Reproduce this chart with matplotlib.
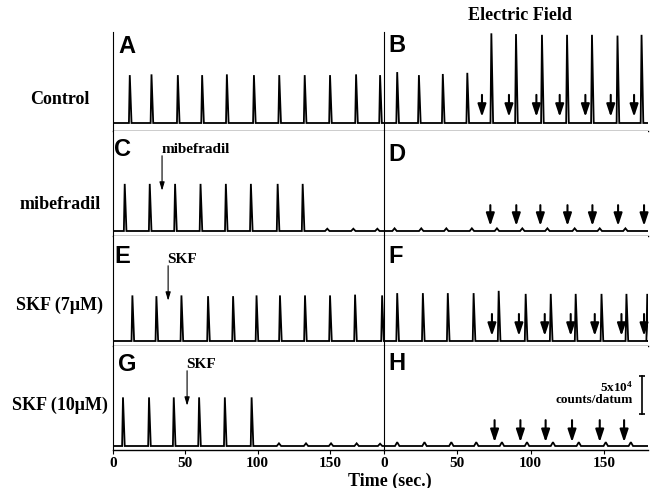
import matplotlib.pyplot as plt

W, H = 650, 489
SERIF = ["Liberation Serif", "DejaVu Serif"]
SANS = ["Liberation Sans", "DejaVu Sans"]
plt.rcParams["mathtext.default"] = "regular"

# times in seconds, heights in 1e4 counts/datum
a_peaks = [11.6, 26.6, 44.8, 61.6, 78.7, 97.4, 114.9, 132.5, 150.0, 168.0, 184.6]
a_heights = [6.3, 6.4, 6.3, 6.3, 6.4, 6.3, 6.3, 6.3, 6.3, 6.4, 6.3]

b_peaks = [9.0, 23.8, 40.1, 56.8, 73.2, 90.0, 107.7, 124.8, 141.8, 159.2, 175.6]
b_heights = [6.7, 6.3, 6.45, 6.6, 11.8, 11.7, 11.6, 11.6, 11.6, 11.5, 11.6]
b_arrows = [66.8, 85.2, 103.9, 119.8, 137.3, 154.6, 170.5]

c_peaks = [8.1, 25.4, 42.9, 60.5, 78.0, 95.3, 113.8, 131.1, 148.1, 166.1, 182.7]
c_heights = [6.2, 6.2, 6.2, 6.2, 6.2, 6.2, 6.2, 6.2, 0.3, 0.3, 0.3]
c_drug = 33.9

d_peaks = [7.2, 25.4, 42.5, 59.9, 77.0, 94.3, 111.4, 130.0, 147.1, 164.6]
d_heights = [0.35, 0.35, 0.35, 0.35, 0.35, 0.35, 0.35, 0.35, 0.35, 0.35]
d_arrows = [72.5, 90.2, 106.6, 125.1, 142.1, 159.6, 177.3]

e_peaks = [13.4, 30.0, 47.3, 65.7, 83.0, 99.2, 115.4, 132.7, 150.0, 167.3, 186.0]
e_heights = [6.0, 5.9, 6.0, 5.9, 5.9, 6.0, 6.0, 6.0, 6.0, 6.1, 6.0]
e_drug = 38.1

f_peaks = [9.0, 26.5, 43.5, 61.1, 78.2, 96.6, 113.7, 130.7, 148.3, 165.3, 179.5]
f_heights = [6.3, 6.3, 6.3, 6.3, 6.6, 6.2, 6.2, 6.2, 6.2, 6.2, 6.2]
f_arrows = [73.6, 92.0, 109.6, 127.3, 143.7, 161.9, 177.3]

g_peaks = [6.9, 24.9, 42.0, 59.5, 77.3, 95.8, 114.7, 133.4, 150.7, 168.4, 184.6]
g_heights = [6.4, 6.4, 6.4, 6.4, 6.4, 6.4, 0.35, 0.35, 0.35, 0.35, 0.3]
g_drug = 51.2

h_peaks = [9.0, 27.6, 45.9, 62.9, 80.4, 97.5, 115.2, 132.8, 151.2, 168.3]
h_heights = [0.5, 0.5, 0.5, 0.5, 0.5, 0.5, 0.5, 0.5, 0.5, 0.5]
h_arrows = [75.4, 93.0, 110.2, 128.2, 147.1, 163.7]

row_labels = ["Control", "mibefradil", "SKF (7\u03bcM)", "SKF (10\u03bcM)"]
panel_letters = ["A", "B", "C", "D", "E", "F", "G", "H"]
xticks = [0, 50, 100, 150]

fig = plt.figure(figsize=(6.5, 4.89), dpi=100)

# rows: top, bottom, baseline (pixels); columns: left, right, x max
rows = [(33, 132, 124), (132, 237, 232), (237, 347, 342), (347, 451, 447)]
cols = [(113, 384, 187.3), (384, 648, 180.0)]
PX = 7.6  # pixels per 1e4 counts


def trace(ax, peaks, heights, xmax):
    x, y = [0], [0]
    for t, h in zip(peaks, heights):
        r, f = (0.6, 1.2) if h > 1 else (1.5, 1.5)
        x += [t - r, t, t + f]
        y += [0, h, 0]
    x.append(xmax)
    y.append(0)
    ax.plot(x, y, color="black", lw=1.3, solid_joinstyle="miter")


def stim_arrows(ax, times, top, tip):
    for t in times:
        ax.annotate("", xy=(t, tip), xytext=(t, top),
                    arrowprops=dict(arrowstyle="-|>,head_width=0.25,head_length=0.75",
                                    color="black", lw=1.5, shrinkA=0, shrinkB=0,
                                    mutation_scale=10))


def drug_arrow(ax, t, label):
    ax.annotate("", xy=(t, 5.3), xytext=(t, 9.9),
                arrowprops=dict(arrowstyle="-|>,head_width=0.15,head_length=0.5",
                                color="black", lw=0.8, shrinkA=0, shrinkB=0,
                                mutation_scale=10))
    ax.text(t - 0.5, 10.9, label, ha="left", va="center", fontsize=11,
            fontweight="bold", family=SERIF)


axes = []
for i, (top, bot, base) in enumerate(rows):
    for j, (x0, x1, xmax) in enumerate(cols):
        ax = fig.add_axes([x0 / W, 1 - bot / H, (x1 - x0) / W, (bot - top) / H])
        ax.set_xlim(0, xmax)
        ax.set_ylim(-(bot - base) / PX, (base - top) / PX)
        for s in ["top", "right"]:
            ax.spines[s].set_visible(False)
        ax.spines["left"].set_linewidth(0.8)
        ax.spines["bottom"].set_linewidth(1.0)
        ax.set_yticks([])
        if i == 3:
            ax.set_xticks(xticks)
            ax.tick_params(axis="x", length=3, width=0.8, pad=1.5)
            for lab in ax.get_xticklabels():
                lab.set_fontsize(11)
                lab.set_fontweight("bold")
                lab.set_family(SERIF)
        else:
            ax.set_xticks([])
        axes.append(ax)

trace(axes[0], a_peaks, a_heights, 187.3)
trace(axes[1], b_peaks, b_heights, 180.0)
stim_arrows(axes[1], b_arrows, 3.7, 0.8)
trace(axes[2], c_peaks, c_heights, 187.3)
drug_arrow(axes[2], c_drug, "mibefradil")
trace(axes[3], d_peaks, d_heights, 180.0)
stim_arrows(axes[3], d_arrows, 3.4, 0.66)
trace(axes[4], e_peaks, e_heights, 187.3)
drug_arrow(axes[4], e_drug, "SKF")
trace(axes[5], f_peaks, f_heights, 180.0)
stim_arrows(axes[5], f_arrows, 3.55, 0.66)
trace(axes[6], g_peaks, g_heights, 187.3)
drug_arrow(axes[6], g_drug, "SKF")
trace(axes[7], h_peaks, h_heights, 180.0)
stim_arrows(axes[7], h_arrows, 3.4, 0.5)

# scale bar in H
axh = axes[7]
axh.plot([175.6, 175.6], [4.2, 9.2], color="black", lw=1.2)
axh.plot([175.6, 175.6], [4.2, 9.2], color="black", lw=0, marker="_", ms=5, mew=1.2)
axh.text(170.0, 7.8, "5x10$^4$", ha="right", va="center", fontsize=9.5,
         fontweight="bold", family=SERIF)
axh.text(170.0, 6.2, "counts/datum", ha="right", va="center", fontsize=9.5,
         fontweight="bold", family=SERIF)

# panel letters
letter_pos = [(118, 35), (388, 34), (114, 138), (388, 143),
              (114, 245), (388, 245), (118, 353), (388, 352)]
for letter, (px, py) in zip(panel_letters, letter_pos):
    fig.text(px / W, 1 - py / H, letter, ha="left", va="top", fontsize=17,
             fontweight="bold", family=SANS)

for label, py in zip(row_labels, [100, 205, 305, 405]):
    fig.text(60 / W, 1 - py / H, label, ha="center", va="center", fontsize=13,
             fontweight="bold", family=SERIF)

fig.text(520 / W, 1 - 15 / H, "Electric Field", ha="center", va="center",
         fontsize=13, fontweight="bold", family=SERIF)
fig.text(390 / W, 1 - 481 / H, "Time (sec.)", ha="center", va="center",
         fontsize=13, fontweight="bold", family=SERIF)

fig.savefig("out.png", dpi=100)
